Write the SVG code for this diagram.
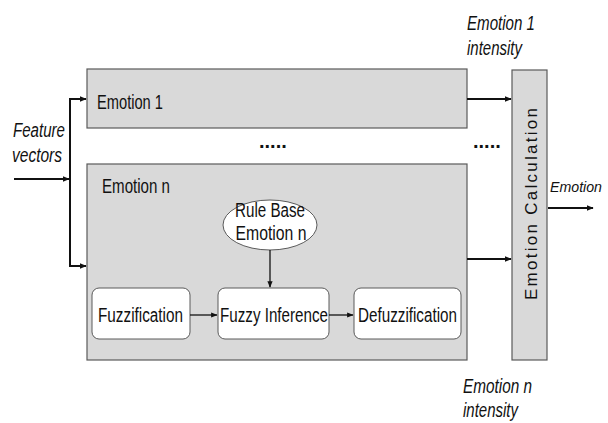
<svg xmlns="http://www.w3.org/2000/svg" width="608" height="423" viewBox="0 0 608 423">
<defs>
<style>
.box{fill:#d9d9d9;stroke:#5a5a5a;stroke-width:1.2}
.inner{fill:#fff;stroke:#5a5a5a;stroke-width:1}
.t{font-family:"Liberation Sans",Arial,sans-serif;font-size:19.5px;fill:#111}
.it{font-family:"Liberation Sans",Arial,sans-serif;font-size:19.5px;font-style:italic;fill:#111}
.dots{font-family:"Liberation Sans",Arial,sans-serif;font-size:20px;font-weight:bold;fill:#111}
.c{fill:none;stroke:#111;stroke-width:2}
.c1{fill:none;stroke:#111;stroke-width:1.3}
</style>
<marker id="ah" viewBox="0 0 10 10" refX="9" refY="5" markerWidth="3.5" markerHeight="3.5" orient="auto"><path d="M0,1 L10,5 L0,9 z" fill="#111"/></marker>
<marker id="ahs" viewBox="0 0 10 10" refX="9" refY="5" markerWidth="5" markerHeight="5" orient="auto"><path d="M0,1 L10,5 L0,9 z" fill="#111"/></marker>
</defs>
<rect width="608" height="423" fill="#fff"/>

<g id="emotion1">
<rect class="box" x="87" y="69" width="380" height="59"/>
<text class="t" x="97" y="109" textLength="66" lengthAdjust="spacingAndGlyphs">Emotion 1</text>
</g>

<g id="emotionn">
<rect class="box" x="87" y="164" width="380" height="196"/>
<text class="t" x="102" y="193" textLength="68" lengthAdjust="spacingAndGlyphs">Emotion n</text>
</g>

<g id="rulebase">
<ellipse cx="270" cy="225" rx="47" ry="25" fill="#fff" stroke="#5a5a5a" stroke-width="1"/>
<text class="t" x="270" y="217" text-anchor="middle" textLength="70" lengthAdjust="spacingAndGlyphs">Rule Base</text>
<text class="t" x="271" y="240" text-anchor="middle" textLength="71" lengthAdjust="spacingAndGlyphs">Emotion n</text>
</g>

<g id="fuzzification">
<rect class="inner" x="92" y="288" width="98" height="51" rx="7"/>
<text class="t" x="98" y="322" textLength="85" lengthAdjust="spacingAndGlyphs">Fuzzification</text>
</g>

<g id="fuzzyinference">
<rect class="inner" x="218" y="288" width="111" height="51" rx="7"/>
<text class="t" x="220" y="322" textLength="108" lengthAdjust="spacingAndGlyphs">Fuzzy Inference</text>
</g>

<g id="defuzzification">
<rect class="inner" x="354" y="288" width="107" height="51" rx="7"/>
<text class="t" x="358" y="322" textLength="99" lengthAdjust="spacingAndGlyphs">Defuzzification</text>
</g>

<g id="emotioncalc">
<rect class="box" x="512" y="70" width="35" height="290"/>
<text transform="translate(537,204) rotate(-90)" text-anchor="middle" style="font-family:'Liberation Sans',Arial,sans-serif;font-size:17px;fill:#111" textLength="192" lengthAdjust="spacing">Emotion Calculation</text>
</g>

<g id="labels">
<text class="it" x="13" y="137" textLength="52" lengthAdjust="spacingAndGlyphs">Feature</text>
<text class="it" x="12" y="162" textLength="50" lengthAdjust="spacingAndGlyphs">vectors</text>
<text class="it" x="467" y="30" textLength="68" lengthAdjust="spacingAndGlyphs">Emotion 1</text>
<text class="it" x="467" y="55" textLength="55" lengthAdjust="spacingAndGlyphs">intensity</text>
<text class="it" x="463" y="393" textLength="69" lengthAdjust="spacingAndGlyphs">Emotion n</text>
<text class="it" x="463" y="417" textLength="55" lengthAdjust="spacingAndGlyphs">intensity</text>
<text class="it" x="550" y="192" style="font-size:15.5px" textLength="52" lengthAdjust="spacingAndGlyphs">Emotion</text>
<text class="dots" x="259" y="148">.....</text>
<text class="dots" x="473" y="148">.....</text>
</g>

<g id="connectors">
<line class="c" x1="14" y1="179" x2="69" y2="179" marker-end="url(#ah)"/>
<polyline class="c" points="70,100 70,266"/>
<polyline class="c" points="69,99 86,99" marker-end="url(#ah)"/>
<polyline class="c" points="69,266 86,266" marker-end="url(#ah)"/>
<line class="c" x1="467" y1="99" x2="511" y2="99" marker-end="url(#ah)"/>
<line class="c" x1="467" y1="259" x2="511" y2="259" marker-end="url(#ah)"/>
<line class="c" x1="548" y1="208" x2="593" y2="208" marker-end="url(#ah)"/>
<line class="c1" x1="270" y1="250" x2="270" y2="287" marker-end="url(#ahs)"/>
<line class="c1" x1="190" y1="315" x2="217" y2="315" marker-end="url(#ahs)"/>
<line class="c1" x1="329" y1="315" x2="353" y2="315" marker-end="url(#ahs)"/>
</g>
</svg>
